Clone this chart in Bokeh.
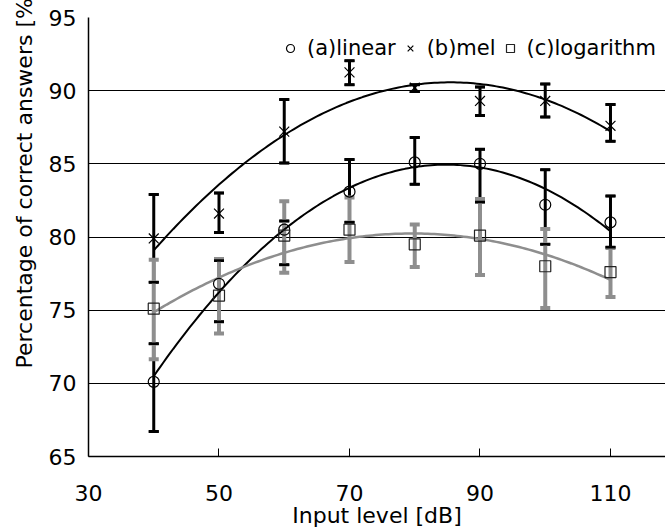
import numpy as np
from bokeh.plotting import figure
from bokeh.models import (Range1d, FixedTicker, Whisker, TeeHead, ColumnDataSource,
                          Legend, LegendItem, Title)
from bokeh.embed import file_html
from bokeh.resources import INLINE

# ---- data ----
levels = [40, 50, 60, 70, 80, 90, 100, 110]

linear = [70.1, 76.8, 80.5, 83.1, 85.1, 85.0, 82.2, 81.0]
linear_hi = [72.7, 78.4, 81.1, 85.3, 86.8, 86.0, 84.6, 82.8]
linear_lo = [66.7, 74.2, 78.1, 81.0, 83.6, 82.4, 79.5, 79.3]

mel = [79.9, 81.6, 87.2, 91.25, 90.2, 89.3, 89.3, 87.6]
mel_hi = [82.9, 83.0, 89.4, 92.05, 90.4, 90.25, 90.45, 89.05]
mel_lo = [76.9, 80.3, 85.05, 90.4, 89.95, 88.3, 88.2, 86.55]

logarithm = [75.1, 76.0, 80.1, 80.5, 79.5, 80.1, 78.0, 77.6]
logarithm_hi = [78.45, 78.5, 82.45, 82.7, 80.85, 82.6, 80.55, 79.25]
logarithm_lo = [71.65, 73.4, 77.55, 78.3, 77.95, 77.4, 75.15, 75.9]

x_ticks = [30, 50, 70, 90, 110]
y_ticks = [65, 70, 75, 80, 85, 90, 95]
grid_values = [70, 75, 80, 85, 90, 95]

FONT = "DejaVu Sans"
GRAY = "#8e8e8e"

p = figure(width=665, height=530, output_backend="svg", toolbar_location=None,
           x_range=Range1d(30, 118.43), y_range=Range1d(65, 95),
           min_border_left=88, min_border_top=17, min_border_right=0, min_border_bottom=74)
p.outline_line_color = None
p.background_fill_color = "white"

# axes
p.xaxis.ticker = FixedTicker(ticks=x_ticks)
p.yaxis.ticker = FixedTicker(ticks=y_ticks)
for ax in (p.xaxis[0], p.yaxis[0]):
    ax.axis_line_color = "black"
    ax.axis_line_width = 1.5
    ax.minor_tick_line_color = None
    ax.major_label_text_font = FONT
    ax.major_label_text_font_size = "22px"
    ax.major_label_text_color = "black"
    ax.major_tick_out = 0
p.xaxis.major_tick_in = 8
p.xaxis.major_tick_line_color = "black"
p.xaxis.major_label_standoff = 28
p.yaxis.major_tick_in = 0
p.yaxis.major_tick_line_color = None
p.yaxis.major_label_standoff = 12
p.xaxis.axis_label = "Input level [dB]"
p.xaxis.axis_label_text_font = FONT
p.xaxis.axis_label_text_font_size = "22px"
p.xaxis.axis_label_text_font_style = "normal"
p.xaxis.axis_label_text_color = "black"
p.xaxis.axis_label_standoff = -1

p.xgrid.grid_line_color = None
p.ygrid.ticker = FixedTicker(ticks=grid_values)
p.ygrid.grid_line_color = "black"
p.ygrid.grid_line_width = 1

# y axis title, placed low as in the reference (its end runs off the top)
p.add_layout(Title(text="Percentage of correct answers [%]", align="left", offset=88,
                   standoff=17, text_font=FONT, text_font_size="22px",
                   text_font_style="normal", text_color="black"), "left")

# trend curves (2nd-order polynomial fits of each series)
xx = np.linspace(min(levels), max(levels), 141)
for ys, col, w in ((mel, "black", 2), (linear, "black", 2), (logarithm, GRAY, 2.5)):
    coef = np.polyfit(levels, ys, 2)
    p.line(xx, np.polyval(coef, xx), line_color=col, line_width=w)

src_lin = ColumnDataSource(dict(x=levels, y=linear, hi=linear_hi, lo=linear_lo))
src_mel = ColumnDataSource(dict(x=levels, y=mel, hi=mel_hi, lo=mel_lo))
src_log = ColumnDataSource(dict(x=levels, y=logarithm, hi=logarithm_hi, lo=logarithm_lo))

def whisker(src, color, width, bar=True):
    w = Whisker(source=src, base="x", upper="hi", lower="lo", dimension="height",
                line_color=color, line_width=width, line_alpha=1.0 if bar else 0.0,
                upper_head=TeeHead(size=10, line_color=color, line_width=width),
                lower_head=TeeHead(size=10, line_color=color, line_width=width))
    p.add_layout(w)

whisker(src_lin, "black", 3)
whisker(src_mel, "black", 3)
whisker(src_log, GRAY, 4)
whisker(src_lin, "black", 2.5, bar=False)
whisker(src_mel, "black", 2.5, bar=False)

r_lin = p.scatter("x", "y", source=src_lin, marker="circle", size=11,
                  fill_color=None, line_color="black", line_width=1.2)
r_mel = p.scatter("x", "y", source=src_mel, marker="x", size=14,
                  line_color="black", line_width=1.2)
r_log = p.scatter("x", "y", source=src_log, marker="square", size=11,
                  fill_color=None, line_color="#222222", line_width=1.2)

legend = Legend(items=[LegendItem(label="(a)linear", renderers=[r_lin]),
                       LegendItem(label="(b)mel", renderers=[r_mel]),
                       LegendItem(label="(c)logarithm", renderers=[r_log])],
                orientation="horizontal", location=(192, 396),
                padding=0, spacing=4, glyph_width=20, glyph_height=20,
                label_standoff=7, border_line_color=None, background_fill_alpha=0,
                label_text_font=FONT, label_text_font_size="21px",
                label_text_color="black")
p.add_layout(legend)

open("out.html", "w").write(file_html(p, INLINE))
